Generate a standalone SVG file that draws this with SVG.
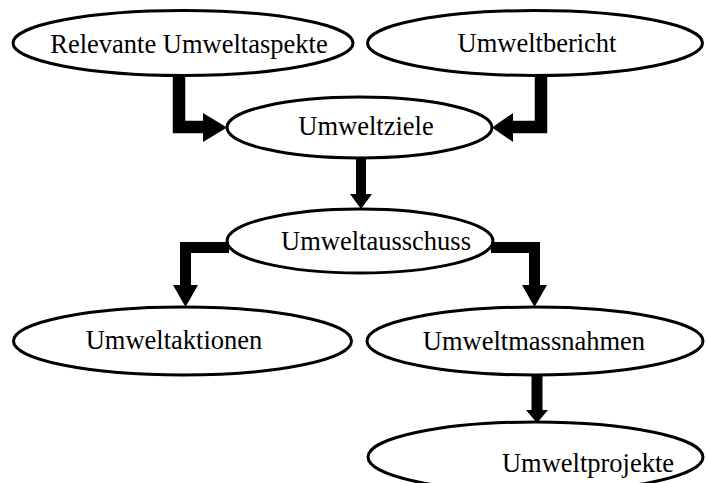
<svg xmlns="http://www.w3.org/2000/svg" width="706" height="483" viewBox="0 0 706 483">
<style>
  .node ellipse { fill: #ffffff; stroke: #000000; stroke-width: 3; }
  .node text { font-size: 26.5px; fill: #000000; text-anchor: middle; }
  .shaft { fill: none; stroke: #000000; stroke-linejoin: miter; stroke-linecap: butt; }
  .head { fill: #000000; stroke: none; }
</style>
<rect x="0" y="0" width="706" height="483" fill="#ffffff"/>
<g font-family="Liberation Serif, Tinos, DejaVu Serif, serif">
<g id="node-relevante" class="node">
  <ellipse cx="183" cy="43" rx="170" ry="32.5"/>
  <text x="189" y="53">Relevante Umweltaspekte</text>
</g>
<g id="node-umweltbericht" class="node">
  <ellipse cx="535" cy="43" rx="167.5" ry="32.5"/>
  <text x="537" y="52">Umweltbericht</text>
</g>
<g id="node-umweltziele" class="node">
  <ellipse cx="359.5" cy="127.5" rx="132.5" ry="30.5"/>
  <text x="366" y="135">Umweltziele</text>
</g>
<g id="node-umweltausschuss" class="node">
  <ellipse cx="360" cy="241" rx="133" ry="32"/>
  <text x="376" y="250">Umweltausschuss</text>
</g>
<g id="node-umweltaktionen" class="node">
  <ellipse cx="182.5" cy="341" rx="169" ry="34"/>
  <text x="174" y="349">Umweltaktionen</text>
</g>
<g id="node-umweltmassnahmen" class="node">
  <ellipse cx="535" cy="341" rx="168" ry="34"/>
  <text x="534" y="350">Umweltmassnahmen</text>
</g>
<g id="node-umweltprojekte" class="node">
  <ellipse cx="535.5" cy="457" rx="167.5" ry="35"/>
  <text x="588" y="472">Umweltprojekte</text>
</g>
</g>
<g id="connectors">
  <path class="shaft" stroke-width="12.5" d="M179,75 V127 H205"/>
  <polygon class="head" points="203,113 227,127.5 203,142"/>
  <path class="shaft" stroke-width="12.5" d="M541,75 V127 H511"/>
  <polygon class="head" points="513,113 492,127.5 513,142"/>
  <path class="shaft" stroke-width="10" d="M361,157 V196"/>
  <polygon class="head" points="350,194 372,194 361,209"/>
  <path class="shaft" stroke-width="11" d="M229,247.5 H185.5 V287"/>
  <polygon class="head" points="173,285 198,285 185.5,307"/>
  <path class="shaft" stroke-width="11" d="M491,247.5 H534.5 V287"/>
  <polygon class="head" points="522,285 547,285 534.5,307"/>
  <path class="shaft" stroke-width="11" d="M537,374 V412"/>
  <polygon class="head" points="526,410 548,410 537,423"/>
</g>
</svg>
